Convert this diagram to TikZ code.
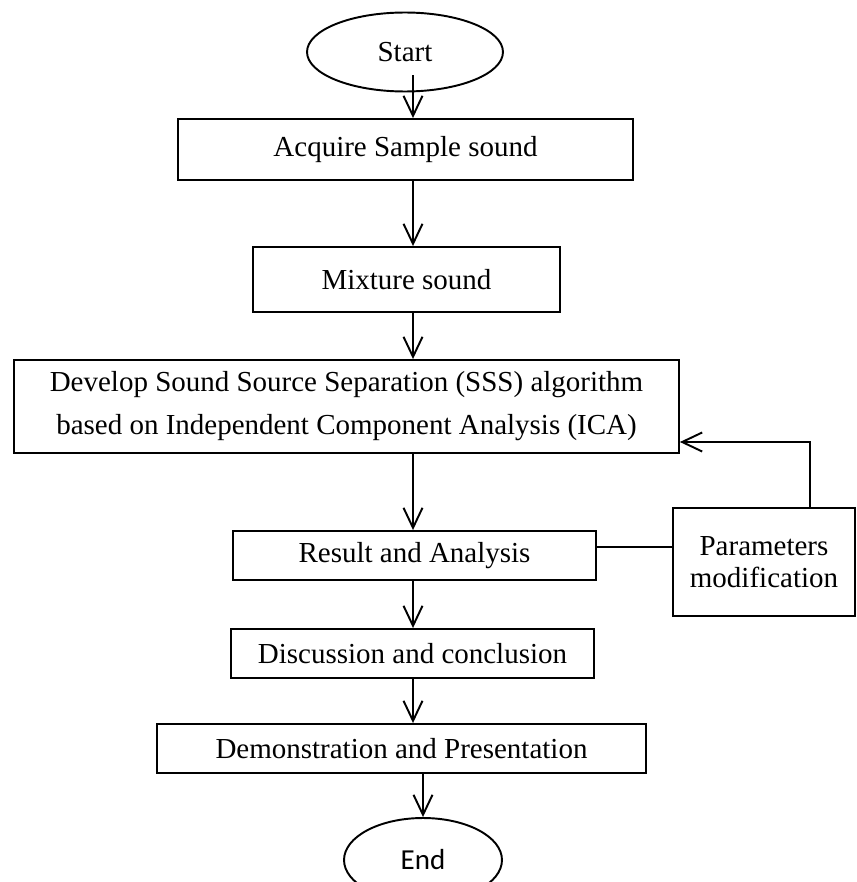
\documentclass[tikz,border=0pt]{standalone}
\usepackage{fontspec}
\setmainfont{Liberation Serif}
\newfontfamily\endfont{Carlito}
\usetikzlibrary{shapes.geometric,arrows.meta,calc}

\begin{document}
\begin{tikzpicture}[x=0.02cm, y=-0.02cm,
          box/.style={draw, line width=1.1pt, inner sep=0pt, align=center,
            font=\fontsize{16.5}{24.5}\selectfont},
          term/.style={box, ellipse},
          wire/.style={line width=1.1pt},
          arr/.style={wire, -{Straight Barb[length=0.4cm, width=0.38cm]}},
        ]
        \clip (0,0) rectangle (857,882);

        \node[term, minimum width=3.92cm, minimum height=1.58cm] (start) at (405,52) {Start};
        \node[box, minimum width=9.1cm, minimum height=1.22cm] (acq) at (405.5,149.5) {Acquire Sample sound};
        \node[box, minimum width=6.14cm, minimum height=1.3cm] (mix) at (406.5,279.5) {Mixture sound};
        \node[box, minimum width=13.3cm, minimum height=1.86cm] (sss) at (346.5,406.5)
          {Develop Sound Source Separation (SSS) algorithm\\based on Independent Component Analysis (ICA)};
        \node[box, minimum width=7.26cm, minimum height=0.98cm] (res) at (414.5,555.5) {Result and Analysis};
        \node[box, minimum width=7.26cm, minimum height=0.98cm] (dis) at (412.5,653.5) {Discussion and conclusion};
        \node[box, minimum width=9.78cm, minimum height=0.98cm] (dem) at (401.5,748.5) {Demonstration and Presentation};
        \node[box, minimum width=3.64cm, minimum height=2.16cm, font=\fontsize{16.5}{18.5}\selectfont]
          (par) at (764,562) {Parameters\\modification};
        \node[term, minimum width=3.16cm, minimum height=1.68cm] (end) at (423,860) {\endfont End};

        \coordinate (spine) at (413,0);
        \coordinate (tap) at (630,547);
        \coordinate (fb) at (810,442);

        \draw[arr] ($(start.south -| spine)+(0,-17)$) -- (acq.north -| spine);
        \foreach \a/\b in {acq/mix, mix/sss, sss/res, res/dis, dis/dem}
          \draw[arr] (\a.south -| spine) -- (\b.north -| spine);
        \draw[arr] (dem.south -| end) -- (end.north);

        \draw[wire] (res.east |- tap) -- (par.west |- tap);
        \draw[arr] (par.north -| fb) -- (fb) -- (sss.east |- fb);
\end{tikzpicture}
\end{document}
